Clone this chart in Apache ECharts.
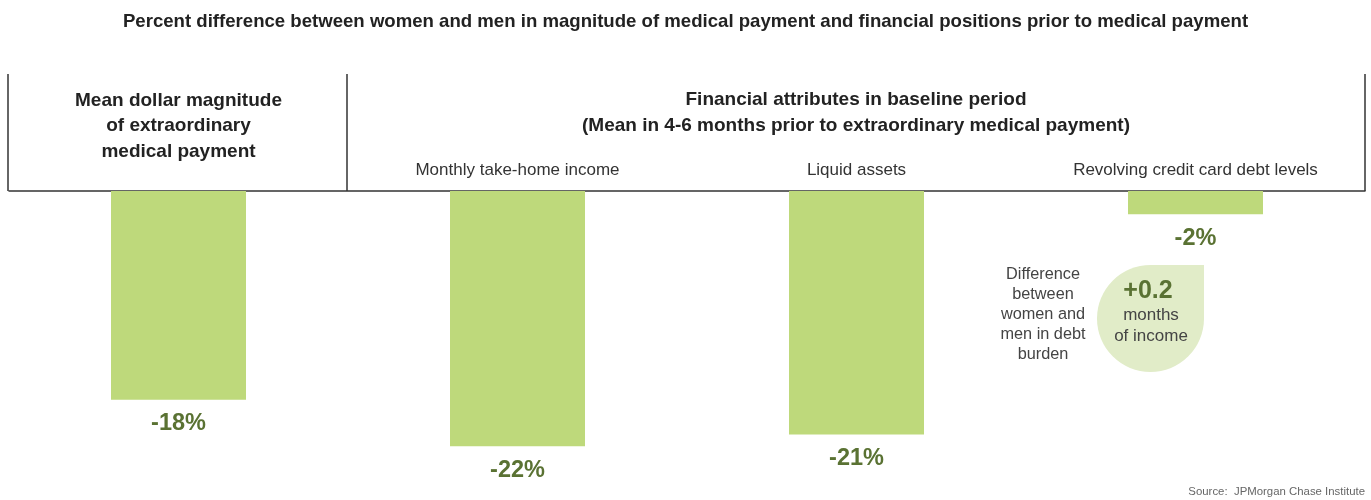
<!DOCTYPE html>
<html><head><meta charset="utf-8">
<script src="https://cdn.jsdelivr.net/npm/echarts@6/dist/echarts.min.js"></script>
<style>html,body{margin:0;padding:0;background:#fff}#c{width:1371px;height:500px}</style>
</head><body><div id="c"></div>
<script>
const titleText = 'Percent difference between women and men in magnitude of medical payment and financial positions prior to medical payment';
const categories = ['Mean dollar magnitude\nof extraordinary\nmedical payment', 'Monthly take-home income', 'Liquid assets', 'Revolving credit card debt levels'];
const values = [-18, -22, -21, -2];
const groupHeader = 'Financial attributes in baseline period\n(Mean in 4-6 months prior to extraordinary medical payment)';
const bubbleValue = '+0.2';
const bubbleUnit = 'months\nof income';
const bubbleNote = 'Difference\nbetween\nwomen and\nmen in debt\nburden';
const sourceText = 'Source:  JPMorgan Chase Institute';

const FONT = 'Liberation Sans, Arial, sans-serif';
const chart = echarts.init(document.getElementById('c'));
chart.setOption({
  animation: false,
  title: {
    text: titleText, left: 'center', top: 7,
    textStyle: {fontFamily: FONT, fontSize: 18.6, fontWeight: 'bold', color: '#222'}
  },
  grid: {left: 9, right: 6, top: 191, bottom: 19},
  xAxis: {
    type: 'category', data: categories, position: 'top',
    axisLine: {show: true, lineStyle: {color: '#333', width: 1.5}},
    axisTick: {show: false},
    axisLabel: {
      interval: 0, margin: 12,
      formatter: function (v, i) { return i === 0 ? '' : v; },
      fontFamily: FONT, fontSize: 17, color: '#333'
    }
  },
  yAxis: {type: 'value', min: -25, max: 0, show: false, splitLine: {show: false}},
  series: [{
    type: 'bar', data: values, barWidth: 135,
    itemStyle: {color: '#bed97b'},
    label: {
      show: true, position: 'bottom', distance: 12,
      formatter: '{c}%', fontFamily: FONT, fontSize: 23.5, fontWeight: 'bold', color: '#5a7233'
    }
  }],
  graphic: [
    {type: 'line', shape: {x1: 8, y1: 74, x2: 8, y2: 191}, style: {stroke: '#333', lineWidth: 1.5}},
    {type: 'line', shape: {x1: 347, y1: 74, x2: 347, y2: 191}, style: {stroke: '#333', lineWidth: 1.5}},
    {type: 'line', shape: {x1: 1365, y1: 74, x2: 1365, y2: 191}, style: {stroke: '#333', lineWidth: 1.5}},
    {type: 'text', style: {text: categories[0], x: 178.5, y: 88, textAlign: 'center', fontFamily: FONT, fontSize: 19, fontWeight: 'bold', fill: '#222', lineHeight: 25.5}},
    {type: 'text', style: {text: groupHeader, x: 856, y: 87, textAlign: 'center', fontFamily: FONT, fontSize: 19, fontWeight: 'bold', fill: '#222', lineHeight: 26}},
    {type: 'rect', shape: {x: 1097, y: 265, width: 107, height: 107, r: [53.5, 0, 53.5, 53.5]}, style: {fill: '#e1ecc8'}},
    {type: 'text', style: {text: bubbleValue, x: 1148, y: 279, textAlign: 'center', fontFamily: FONT, fontSize: 25, fontWeight: 'bold', fill: '#5a7233'}},
    {type: 'text', style: {text: bubbleUnit, x: 1151, y: 305, textAlign: 'center', fontFamily: FONT, fontSize: 17, fill: '#444', lineHeight: 21}},
    {type: 'text', style: {text: bubbleNote, x: 1043, y: 265, textAlign: 'center', fontFamily: FONT, fontSize: 16.3, fill: '#444', lineHeight: 20}},
    {type: 'text', style: {text: sourceText, x: 1365, y: 486, textAlign: 'right', fontFamily: FONT, fontSize: 11.4, fill: '#666'}}
  ]
});
</script></body></html>
